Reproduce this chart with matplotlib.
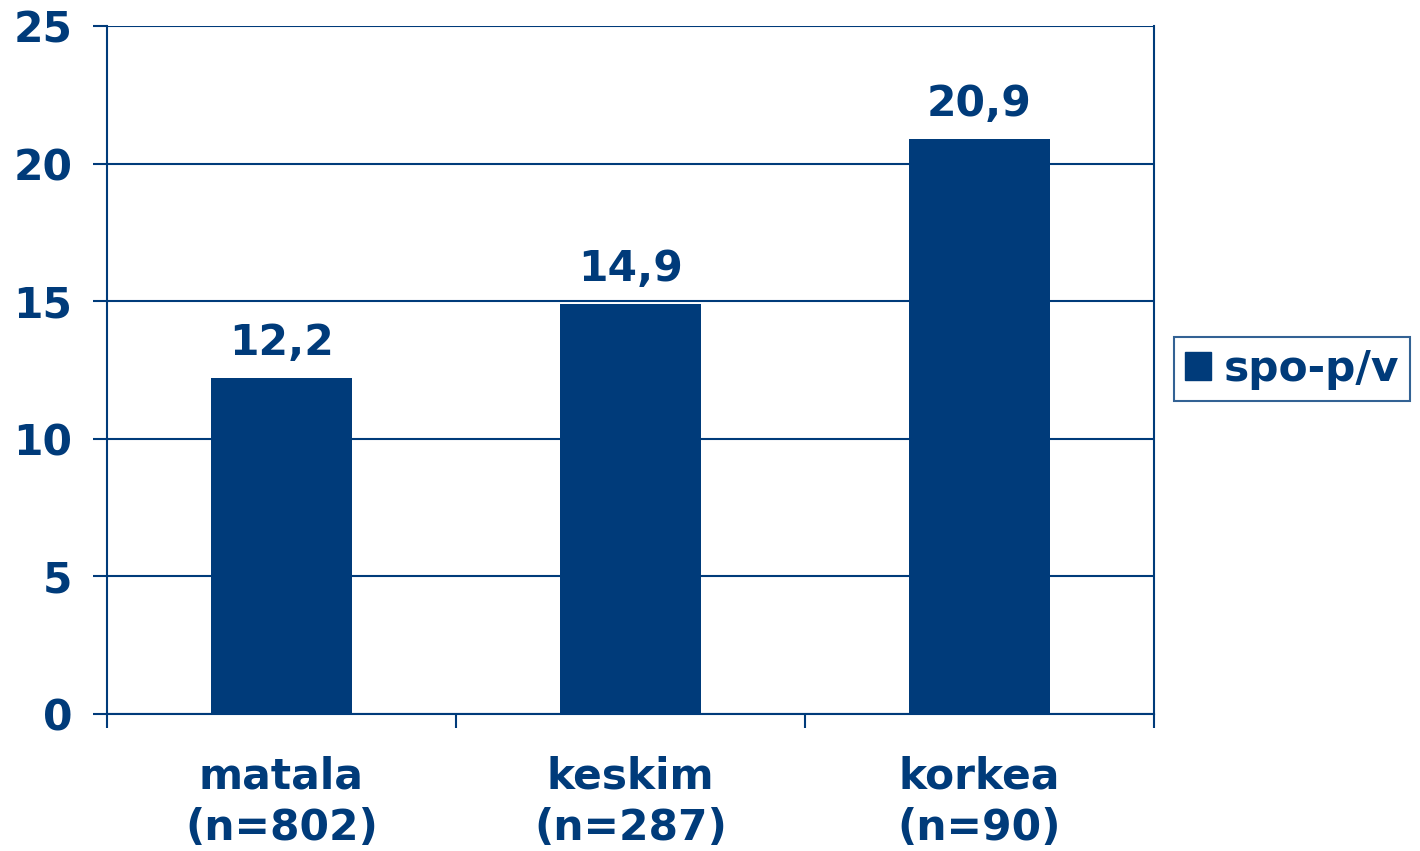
import matplotlib
matplotlib.use("Agg")
import matplotlib.pyplot as plt
from matplotlib.patches import Patch

categories = ["matala\n(n=802)", "keskim\n(n=287)", "korkea\n(n=90)"]
values = [12.2, 14.9, 20.9]
value_labels = ["12,2", "14,9", "20,9"]
series_name = "spo-p/v"
yticks = [0, 5, 10, 15, 20, 25]

C = "#003B7A"
FS = 30.5
plt.rcParams['font.family'] = ['DejaVu Sans']
plt.rcParams['font.weight'] = 'bold'

fig = plt.figure(figsize=(14.2, 8.51), dpi=100)
ax = fig.add_axes([107/1420, 1-714/851, (1154-107)/1420, (714-26)/851])

x = list(range(len(categories)))
bars = ax.bar(x, values, width=0.405, color=C, zorder=3, label=series_name)
ax.set_xlim(-0.5, len(categories)-0.5)
ax.set_ylim(0, 25)
ax.set_yticks(yticks)
ax.set_yticklabels([str(v) for v in yticks], fontsize=FS, color=C, fontweight='bold')
ax.yaxis.grid(True, color=C, linewidth=1.5, zorder=0)
ax.tick_params(axis='y', length=10, width=1.5, color=C, pad=15)

# category boundaries ticks
ax.set_xticks([-0.5, 0.5, 1.5, 2.5])
ax.set_xticklabels([])
ax.tick_params(axis='x', length=10, width=1.5, color=C)
for i, c in enumerate(categories):
    ax.text(i, -1.5, c, ha='center', va='top', fontsize=FS, color=C,
            fontweight='bold', linespacing=1.3)

for xi, v, lab in zip(x, values, value_labels):
    ax.text(xi, v + 0.5, lab, ha='center', va='bottom', fontsize=FS,
            color=C, fontweight='bold')

for s in ['left', 'right', 'bottom']:
    ax.spines[s].set_color(C)
    ax.spines[s].set_linewidth(1.5)
ax.spines['top'].set_visible(False)

leg = fig.legend(handles=[Patch(facecolor=C, edgecolor=C, label=series_name)],
                 loc='center left', bbox_to_anchor=(1174/1420, 1-369/851),
                 frameon=True, fancybox=False,
                 prop={'weight': 'bold', 'size': FS},
                 handlelength=0.62, handleheight=0.62, handletextpad=0.3,
                 borderpad=0.25, borderaxespad=0)
leg.get_frame().set_edgecolor(C)
leg.get_frame().set_linewidth(1.5)
for t in leg.get_texts():
    t.set_color(C)

fig.savefig("out.png", dpi=100)
